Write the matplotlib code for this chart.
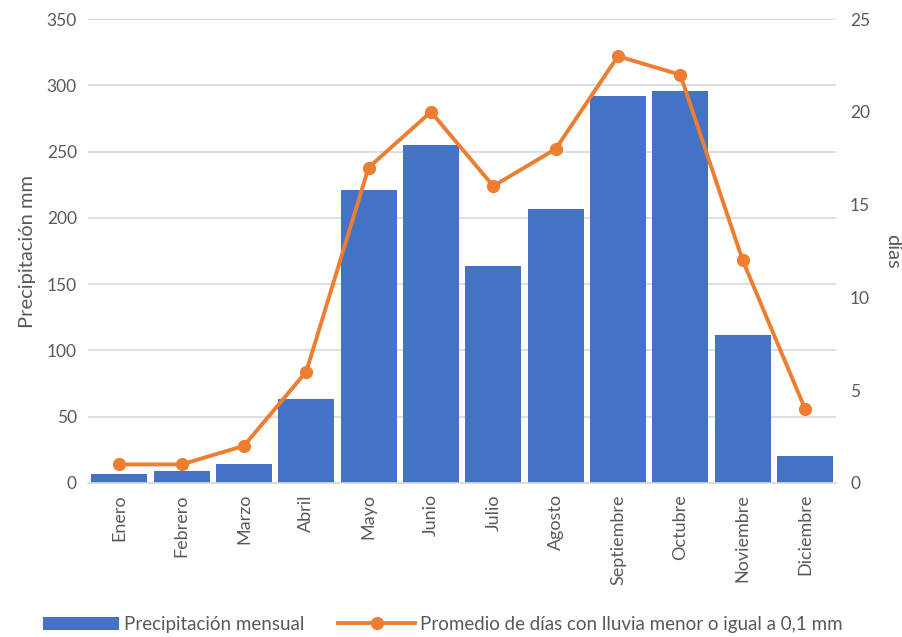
import matplotlib.pyplot as plt
import numpy as np

plt.rcParams['font.family'] = ['Lato', 'DejaVu Sans']

meses = ['Enero', 'Febrero', 'Marzo', 'Abril', 'Mayo', 'Junio', 'Julio',
         'Agosto', 'Septiembre', 'Octubre', 'Noviembre', 'Diciembre']
precipitacion = [7, 9, 14, 63, 221, 255, 164, 207, 292, 296, 112, 20]
dias_lluvia = [1, 1, 2, 6, 17, 20, 16, 18, 23, 22, 12, 4]

azul = '#4472C4'
naranja = '#ED7D31'
gris = '#595959'

fig = plt.figure(figsize=(9.03, 6.37), dpi=100)
ax = fig.add_axes([0.0975, 0.2418, 0.8285, 0.7282])
x = np.arange(len(meses))

# barras de precipitación
ax.bar(x, precipitacion, width=0.9, color=azul, zorder=2,
       label='Precipitación mensual')
ax.set_ylim(0, 350)
ax.set_yticks(range(0, 351, 50))
ax.set_xlim(-0.5, 11.5)
ax.grid(axis='y', color='#d9d9d9', linewidth=1.2, zorder=0)
ax.set_axisbelow(True)
for s in ['top', 'right', 'left']:
    ax.spines[s].set_visible(False)
ax.spines['bottom'].set_color('#d9d9d9')
ax.spines['bottom'].set_linewidth(1.2)
ax.tick_params(axis='y', length=0, labelsize=12.5, labelcolor=gris, pad=8)
ax.tick_params(axis='x', length=0, labelsize=13, labelcolor=gris, pad=8)
ax.set_xticks(x)
ax.set_xticklabels(meses, rotation=90)
ax.set_ylabel('Precipitación mm', fontsize=14.5, color=gris, labelpad=8)

# línea de días con lluvia, eje derecho
ax2 = ax.twinx()
ax2.plot(x, dias_lluvia, color=naranja, linewidth=2.8, marker='o',
         markersize=8.5, zorder=3,
         label='Promedio de días con lluvia menor o igual a 0,1 mm')
ax2.set_ylim(0, 25)
ax2.set_yticks(range(0, 26, 5))
for s in ['top', 'right', 'left', 'bottom']:
    ax2.spines[s].set_visible(False)
ax2.tick_params(length=0, labelsize=12.5, labelcolor=gris, pad=10)
ax2.set_ylabel('días', fontsize=14.5, color=gris, rotation=270, labelpad=22)

h1, l1 = ax.get_legend_handles_labels()
h2, l2 = ax2.get_legend_handles_labels()
fig.legend(h1 + h2, l1 + l2, loc='lower center', ncol=2, frameon=False,
           bbox_to_anchor=(0.49, -0.02), fontsize=13.5, labelcolor=gris,
           handlelength=4.1, handletextpad=0.25, columnspacing=1.8)

plt.savefig('out.png', dpi=100)
